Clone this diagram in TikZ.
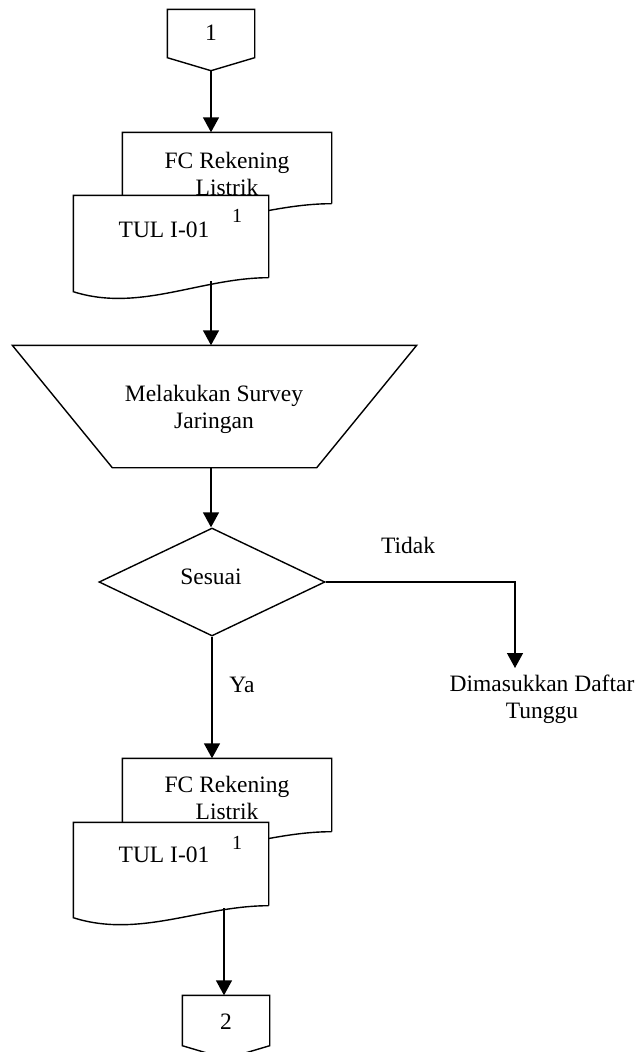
\documentclass[tikz,border=0pt]{standalone}
\usepackage{fontspec}
\setmainfont{Liberation Serif}
\usetikzlibrary{shapes.geometric,arrows.meta}

\begin{document}
\begin{tikzpicture}[x=1pt,y=-1pt,line width=1.4pt]
    \tikzstyle{frame}=[rectangle,inner sep=0pt]
    \tikzstyle{txt}=[align=center,inner sep=0pt,font=\fontsize{23.5}{27}\selectfont]
    \tikzstyle{sup}=[inner sep=0pt,font=\fontsize{20}{22}\selectfont]
    \tikzstyle{dec}=[diamond,draw,inner sep=0pt,minimum width=226pt,minimum height=108pt]
    \tikzstyle{arr}=[-{Triangle[length=15pt,width=16pt]}]

    \useasboundingbox (0,0) rectangle (644,1052);

    % Konektor 1
    \node [frame,minimum width=86pt,minimum height=47pt] (c1) at (211,33.5) {};
    \draw (c1.south west) -- (c1.north west) -- (c1.north east) -- (c1.south east)
        -- ([yshift=-13pt]c1.south) -- cycle;
    \node [txt] (c1t) at (211,33) {1};

    % FC Rekening Listrik + TUL I-01
    \node [frame,minimum width=208pt,minimum height=70pt] (fc1) at (227,168) {};
    \draw [fill=white] (fc1.south east) -- (fc1.north east) -- (fc1.north west)
        -- ([yshift=-14pt]fc1.south west) .. controls +(71,21) and +(-73,0) .. (fc1.south east);
    \node [txt] (fc1t) at (227,174) {FC Rekening\\Listrik};

    \node [frame,minimum width=194pt,minimum height=81pt] (tul1) at (171,236.5) {};
    \draw [fill=white] (tul1.south east) -- (tul1.north east) -- (tul1.north west)
        -- ([yshift=-14pt]tul1.south west) .. controls +(66,21) and +(-68,0) .. (tul1.south east);
    \node [txt] (tul1t) at (164,230) {TUL I-01};
    \node [sup] (tul1n) at (237,216) {1};
    \coordinate (w1) at (211,281);

    % Survey
    \node [frame,minimum width=403pt,minimum height=121pt] (sv) at (214.5,406.5) {};
    \draw (sv.north west) -- (sv.north east) -- ([xshift=-100pt]sv.south east)
        -- ([xshift=100pt]sv.south west) -- cycle;
    \node [txt] (svt) at (214,409.5) {Melakukan Survey\\Jaringan};

    % Keputusan
    \node [dec] (ss) at (212,582) {};
    \node [txt] (sst) at (211,577) {Sesuai};
    \node [txt] (tdk) at (408,545) {Tidak};
    \node [txt] (ya) at (242,685) {Ya};
    \node [txt] (dm) at (542,699) {Dimasukkan Daftar\\Tunggu};
    \coordinate (td) at (515,668);

    % FC Rekening Listrik + TUL I-01 (lagi)
    \node [frame,minimum width=208pt,minimum height=72pt] (fc2) at (227,795) {};
    \draw [fill=white] (fc2.south east) -- (fc2.north east) -- (fc2.north west)
        -- ([yshift=-14pt]fc2.south west) .. controls +(71,21) and +(-73,0) .. (fc2.south east);
    \node [txt] (fc2t) at (227,798) {FC Rekening\\Listrik};

    \node [frame,minimum width=194pt,minimum height=82pt] (tul2) at (171,864) {};
    \draw [fill=white] (tul2.south east) -- (tul2.north east) -- (tul2.north west)
        -- ([yshift=-12pt]tul2.south west) .. controls +(66,21) and +(-68,0) .. (tul2.south east);
    \node [txt] (tul2t) at (164,855) {TUL I-01};
    \node [sup] (tul2n) at (237,843) {1};
    \coordinate (w2) at (224,908);

    % Konektor 2
    \node [frame,minimum width=86pt,minimum height=49pt] (c2) at (226,1020.5) {};
    \draw (c2.south west) -- (c2.north west) -- (c2.north east) -- (c2.south east)
        -- ([yshift=-13pt]c2.south) -- cycle;
    \node [txt] (c2t) at (226,1022) {2};

    % Panah
    \draw [arr] ([yshift=-13pt]c1.south) -- (c1.south |- fc1.north);
    \draw [arr] (w1) -- (w1 |- sv.north);
    \draw [arr] (w1 |- sv.south) -- (w1 |- ss.north);
    \draw [arr] (ss.east) -| (td);
    \draw [arr] (ss.south) -- (ss.south |- fc2.north);
    \draw [arr] (w2) -- (w2 |- c2.north);
\end{tikzpicture}
\end{document}
